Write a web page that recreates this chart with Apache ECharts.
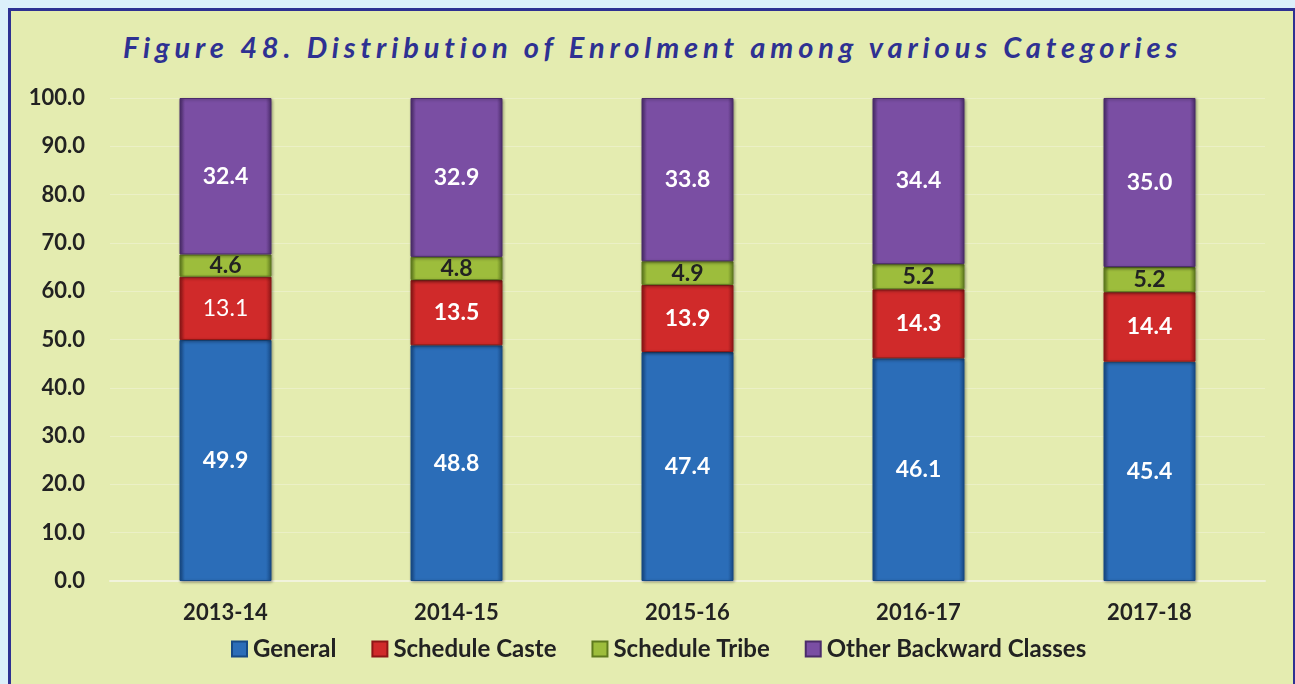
<!DOCTYPE html>
<html>
<head>
<meta charset="utf-8">
<script src="https://cdn.jsdelivr.net/npm/echarts@6/dist/echarts.min.js"></script>
<style>
  html, body { margin: 0; padding: 0; background: #dcf0fa; width: 1295px; height: 684px; overflow: hidden; }
  #panel { position: absolute; left: 8px; top: 8px; width: 1282px; height: 690px;
           border: 3px solid #2e3192; background: #e4ecb0; }
  #title { position: absolute; left: 5px; top: 29px; width: 1295px; text-align: center;
           font-family: Lato, "Open Sans", sans-serif; font-style: italic; font-weight: bold;
           font-size: 29px; letter-spacing: 4.9px; color: #2e3192; }
  #chart { position: absolute; left: 0; top: 0; width: 1295px; height: 684px; }
</style>
</head>
<body>
<div id="panel"></div>
<div id="title">Figure 48. Distribution of Enrolment among various Categories</div>
<div id="chart"></div>
<script>
// Enrolment shares (%) by academic year
const years = ['2013-14', '2014-15', '2015-16', '2016-17', '2017-18'];
const general = [49.9, 48.8, 47.4, 46.1, 45.4];
const scheduleCaste = [13.1, 13.5, 13.9, 14.3, 14.4];
const scheduleTribe = [4.6, 4.8, 4.9, 5.2, 5.2];
const otherBackward = [32.4, 32.9, 33.8, 34.4, 35.0];
const yTicks = [0, 10, 20, 30, 40, 50, 60, 70, 80, 90, 100];

const FONT = 'Lato, "Open Sans", sans-serif';

// horizontal shading gives each segment a slightly raised look
function grad(mid, dark) {
  return new echarts.graphic.LinearGradient(0, 0, 1, 0, [
    { offset: 0, color: dark },
    { offset: 0.06, color: mid },
    { offset: 0.94, color: mid },
    { offset: 1, color: dark }
  ]);
}

function makeSeries(name, data, colors, labelColor) {
  return {
    name: name,
    type: 'bar',
    stack: 'total',
    data: data,
    barWidth: 92,
    itemStyle: {
      color: grad(colors[0], colors[1]),
      borderColor: colors[1],
      borderWidth: 1,
      shadowColor: 'rgba(0,0,0,0.35)',
      shadowBlur: 3,
      shadowOffsetX: 1,
      shadowOffsetY: 1
    },
    label: {
      show: true,
      position: 'inside',
      color: labelColor,
      fontFamily: FONT,
      fontWeight: 'bold',
      fontSize: 23,
      formatter: p => p.value.toFixed(1)
    }
  };
}

const chart = echarts.init(document.getElementById('chart'), null, { renderer: 'canvas' });

const caste = makeSeries('Schedule Caste', scheduleCaste, ['#d02a2a', '#8e1616'], '#ffffff');
// the first Schedule Caste value is printed in regular weight
caste.data = scheduleCaste.map((v, i) => i === 0 ? { value: v, label: { fontWeight: 'normal' } } : v);

chart.setOption({
  backgroundColor: 'transparent',
  animation: false,
  grid: { left: 110, right: 30, top: 98, bottom: 103 },
  legend: {
    top: 632,
    left: 226,
    itemWidth: 15,
    itemHeight: 15,
    itemGap: 35,
    icon: 'rect',
    textStyle: { fontFamily: FONT, fontWeight: 'bold', fontSize: 24, color: '#222222', padding: [0, 0, 0, 1] },
    data: ['General', 'Schedule Caste', 'Schedule Tribe', 'Other Backward Classes']
  },
  xAxis: {
    type: 'category',
    data: years,
    axisLine: { show: true, lineStyle: { color: '#f1f3dc', width: 2 } },
    axisTick: { show: false },
    axisLabel: { margin: 21, fontFamily: FONT, fontWeight: 'bold', fontSize: 22, color: '#222222' }
  },
  yAxis: {
    type: 'value',
    min: 0,
    max: 100,
    interval: 10,
    axisLine: { show: false },
    axisTick: { show: false },
    splitLine: { lineStyle: { color: '#ebf0c6', width: 1 } },
    axisLabel: {
      margin: 25, fontFamily: FONT, fontWeight: 'bold', fontSize: 22, color: '#222222',
      formatter: v => yTicks.includes(v) ? v.toFixed(1) : ''
    }
  },
  series: [
    makeSeries('General', general, ['#2b6db8', '#174a86'], '#ffffff'),
    caste,
    makeSeries('Schedule Tribe', scheduleTribe, ['#9dbd3c', '#5f7a1e'], '#222222'),
    makeSeries('Other Backward Classes', otherBackward, ['#7a4ea3', '#4b2c6a'], '#ffffff')
  ]
});
</script>
</body>
</html>
